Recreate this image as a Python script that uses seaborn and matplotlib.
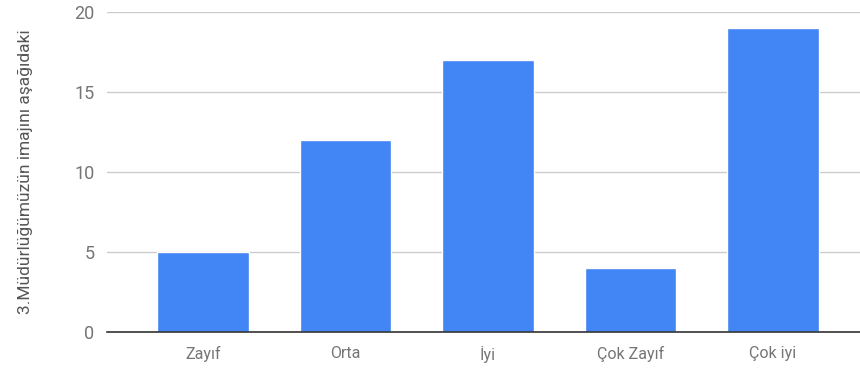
import matplotlib
matplotlib.use("Agg")
import matplotlib.pyplot as plt
import seaborn as sns
import pandas as pd

categories = ["Zayıf", "Orta", "İyi", "Çok Zayıf", "Çok iyi"]
counts = [5, 12, 17, 4, 19]
y_label = "3.Müdürlüğümüzün imajını aşağıdaki"

sns.set_style("white")
plt.rcParams["font.family"] = ["Roboto", "DejaVu Sans"]

df = pd.DataFrame({"cat": categories, "n": counts})

fig = plt.figure(figsize=(8.6, 3.69), dpi=100)
ax = fig.add_axes([0.1244, 0.1003, 0.8756, 0.8672])
sns.barplot(data=df, x="cat", y="n", color="#4285f4", saturation=1, width=0.64, ax=ax)

ax.set_ylim(0, 20)
ax.set_xlim(-0.674, 4.61)
ax.set_yticks([0, 5, 10, 15, 20])
ax.yaxis.grid(True, color="#cccccc", linewidth=1)
ax.set_axisbelow(True)
for s in ["top", "right", "left"]:
    ax.spines[s].set_visible(False)
ax.spines["bottom"].set_color("#333333")
ax.spines["bottom"].set_linewidth(1.2)
ax.tick_params(axis="both", length=0, colors="#757575")
ax.tick_params(axis="x", pad=10, labelsize=11.5)
ax.tick_params(axis="y", pad=9, labelsize=13)
ax.set_xlabel("")
ax.set_ylabel(y_label, color="#555555", fontsize=12.5, labelpad=24)
ax.yaxis.set_label_coords(-0.098, 0.5)

fig.savefig("out.png", dpi=100)
